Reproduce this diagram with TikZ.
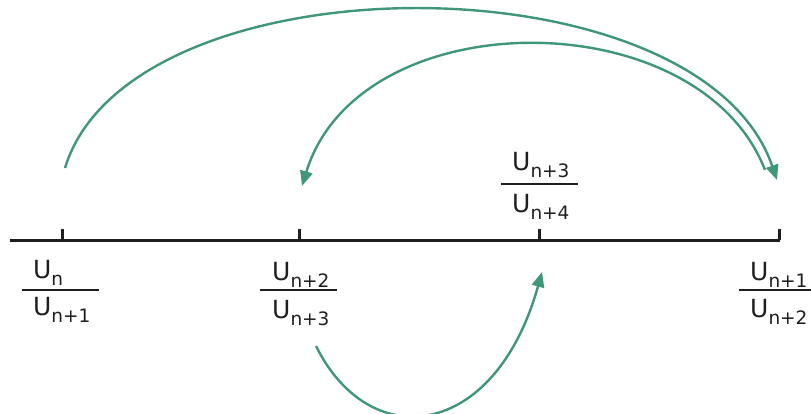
\documentclass[tikz,border=0pt]{standalone}
\usepackage{fontspec}
\setmainfont{DejaVu Sans}
\usetikzlibrary{arrows.meta}
\definecolor{arcgreen}{RGB}{64,150,120}
\definecolor{axisblack}{RGB}{30,30,30}
\newcommand{\uterm}[1]{{\fontsize{25}{25}\selectfont U}\raisebox{-7pt}{\fontsize{18.5}{18.5}\selectfont #1}}
\tikzset{
  axisline/.style={line width=3pt, draw=axisblack},
  tickmark/.style={line width=3pt, draw=axisblack},
  fracbar/.style={line width=1.8pt, draw=axisblack},
  lbl/.style={anchor=base west, inner sep=0pt, text=axisblack},
  jump/.style={line width=2.4pt, draw=arcgreen, -{Triangle[length=15pt,width=12.5pt]}},
}
\begin{document}
\begin{tikzpicture}[x=1pt,y=-1pt]
\useasboundingbox (0,0) rectangle (811,414);
% axis
\coordinate (axL) at (10,240);
\coordinate (axR) at (780,240);
\draw[axisline] (axL) -- (axR);
\coordinate (t1) at (62,240);  \coordinate (t1a) at (62,229);
\coordinate (t2) at (299,240); \coordinate (t2a) at (299,229);
\coordinate (t3) at (539,240); \coordinate (t3a) at (539,229);
\coordinate (t4) at (779,240); \coordinate (t4a) at (779,229);
\draw[tickmark] (t1) -- (t1a);
\draw[tickmark] (t2) -- (t2a);
\draw[tickmark] (t3) -- (t3a);
\draw[tickmark] (t4) -- (t4a);
% label 1
\node[lbl] (n1) at (33,278) {\uterm{n}};
\node[lbl] (d1) at (33,315) {\uterm{n+1}};
\coordinate (b1l) at (22,290); \coordinate (b1r) at (99,290);
\draw[fracbar] (b1l) -- (b1r);
% label 2
\node[lbl] (n2) at (272,280) {\uterm{n+2}};
\node[lbl] (d2) at (272,318) {\uterm{n+3}};
\coordinate (b2l) at (260,290); \coordinate (b2r) at (337,290);
\draw[fracbar] (b2l) -- (b2r);
% label 3
\node[lbl] (n3) at (512,171) {\uterm{n+3}};
\node[lbl] (d3) at (512,212) {\uterm{n+4}};
\coordinate (b3l) at (501,184); \coordinate (b3r) at (578,184);
\draw[fracbar] (b3l) -- (b3r);
% label 4
\node[lbl] (n4) at (750,280) {\uterm{n+1}};
\node[lbl] (d4) at (750,317) {\uterm{n+2}};
\coordinate (b4l) at (739,290); \coordinate (b4r) at (811,290);
\draw[fracbar] (b4l) -- (b4r);
% arcs
\coordinate (a1s) at (65,168);
\coordinate (a1e) at (777,180);
\draw[jump] (a1s) .. controls (130,-45) and (700,-45) .. (a1e);
\coordinate (a2s) at (765,170);
\coordinate (a2e) at (302,186);
\draw[jump] (a2s) .. controls (699,0) and (359,0) .. (a2e);
\coordinate (a3s) at (316,346);
\coordinate (a3e) at (542,272);
\draw[jump] (a3s) .. controls (370,455) and (495,440) .. (a3e);
\end{tikzpicture}
\end{document}
